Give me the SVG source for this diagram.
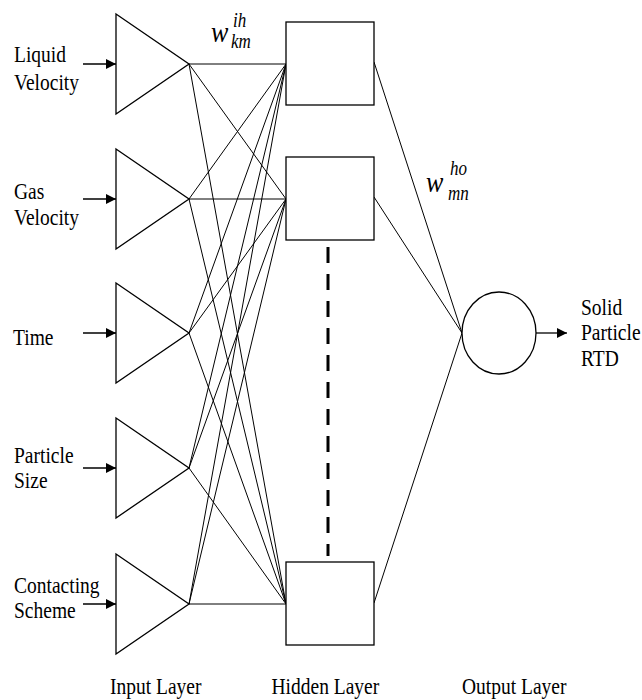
<svg xmlns="http://www.w3.org/2000/svg" width="642" height="700" viewBox="0 0 642 700">
<defs>
<marker id="ah" viewBox="0 0 10 10" refX="10" refY="5" markerWidth="10" markerHeight="10" markerUnits="userSpaceOnUse" orient="auto">
<path d="M0,0 L10,5 L0,10 Z" fill="#000"/>
</marker>
</defs>
<style>
.n{fill:#fff;stroke:#000;stroke-width:1.3}
.c{stroke:#000;stroke-width:1;fill:none}
.a{stroke:#000;stroke-width:1.3;fill:none;marker-end:url(#ah)}
text{font-family:'Liberation Serif','Times New Roman',serif;fill:#000}
.t{font-size:19.5px}
.w{font-style:italic}
</style>
<rect width="642" height="700" fill="#fff"/>
<g id="connectors">
<line class="c" x1="189" y1="64" x2="286" y2="64"/>
<line class="c" x1="189" y1="64" x2="286" y2="199"/>
<line class="c" x1="189" y1="64" x2="286" y2="604"/>
<line class="c" x1="189" y1="199" x2="286" y2="64"/>
<line class="c" x1="189" y1="199" x2="286" y2="199"/>
<line class="c" x1="189" y1="199" x2="286" y2="604"/>
<line class="c" x1="189" y1="333" x2="286" y2="64"/>
<line class="c" x1="189" y1="333" x2="286" y2="199"/>
<line class="c" x1="189" y1="333" x2="286" y2="604"/>
<line class="c" x1="189" y1="468" x2="286" y2="64"/>
<line class="c" x1="189" y1="468" x2="286" y2="199"/>
<line class="c" x1="189" y1="468" x2="286" y2="604"/>
<line class="c" x1="189" y1="604" x2="286" y2="64"/>
<line class="c" x1="189" y1="604" x2="286" y2="199"/>
<line class="c" x1="189" y1="604" x2="286" y2="604"/>
<line class="c" x1="374" y1="62" x2="462" y2="333"/>
<line class="c" x1="374" y1="197" x2="462" y2="333"/>
<line class="c" x1="374" y1="603" x2="462" y2="333"/>
<line x1="328" y1="247" x2="328" y2="556" stroke="#000" stroke-width="3" stroke-dasharray="16 11"/>
<line class="a" x1="83" y1="64" x2="116" y2="64"/>
<line class="a" x1="83" y1="199" x2="116" y2="199"/>
<line class="a" x1="83" y1="333" x2="116" y2="333"/>
<line class="a" x1="83" y1="468" x2="116" y2="468"/>
<line class="a" x1="83" y1="604" x2="116" y2="604"/>
<line class="a" x1="536" y1="333" x2="567" y2="333"/>
</g>
<g id="in1"><polygon class="n" points="116,14 189,64 116,114"/><text class="t" transform="matrix(1,0,0,1.17,14,62.3)">Liquid</text><text class="t" transform="matrix(1,0,0,1.17,14,90)">Velocity</text></g>
<g id="in2"><polygon class="n" points="116,149 189,199 116,249"/><text class="t" transform="matrix(1,0,0,1.17,14,199)">Gas</text><text class="t" transform="matrix(1,0,0,1.17,14,225)">Velocity</text></g>
<g id="in3"><polygon class="n" points="116,283 189,333 116,383"/><text class="t" transform="matrix(1,0,0,1.17,13,345)">Time</text></g>
<g id="in4"><polygon class="n" points="116,418 189,468 116,518"/><text class="t" transform="matrix(1,0,0,1.17,14,463.3)">Particle</text><text class="t" transform="matrix(1,0,0,1.17,14,488.3)">Size</text></g>
<g id="in5"><polygon class="n" points="116,554 189,604 116,654"/><text class="t" transform="matrix(1,0,0,1.17,14,593.3)">Contacting</text><text class="t" transform="matrix(1,0,0,1.17,14,618.3)">Scheme</text></g>
<g id="h1"><rect class="n" x="286" y="22" width="88" height="83"/></g>
<g id="h2"><rect class="n" x="286" y="157" width="88" height="83"/></g>
<g id="h3"><rect class="n" x="286" y="562" width="88" height="83"/></g>
<g id="out"><ellipse class="n" cx="499" cy="333" rx="37" ry="41"/><text class="t" transform="matrix(1,0,0,1.17,581,315)">Solid</text><text class="t" transform="matrix(1,0,0,1.17,581,339.5)">Particle</text><text class="t" transform="matrix(1,0,0,1.17,581,366)">RTD</text></g>
<g id="wih"><text class="w" font-size="26" transform="matrix(1,0,0,1.17,211,41.7)">w</text><text class="w" font-size="17" transform="matrix(1,0,0,1.17,233,26.5)">ih</text><text class="w" font-size="17" transform="matrix(1,0,0,1.17,231,48)">km</text></g>
<g id="who"><text class="w" font-size="26" transform="matrix(1,0,0,1.17,426,191.7)">w</text><text class="w" font-size="17" transform="matrix(1,0,0,1.17,450,175)">ho</text><text class="w" font-size="17" transform="matrix(1,0,0,1.17,448,200)">mn</text></g>
<g id="labels"><text class="t" transform="matrix(1,0,0,1.17,110,694)">Input Layer</text><text class="t" transform="matrix(1,0,0,1.17,271.5,694)">Hidden Layer</text><text class="t" transform="matrix(1,0,0,1.17,462,694)">Output Layer</text></g>
</svg>
